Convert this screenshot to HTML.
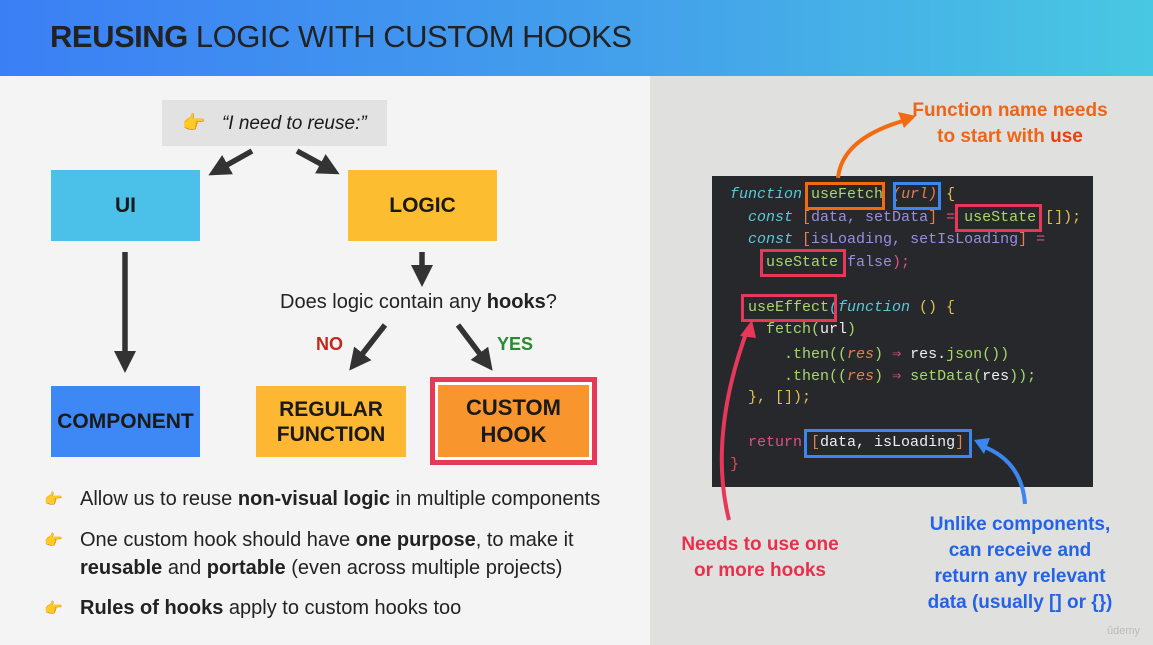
<!DOCTYPE html>
<html><head><meta charset="utf-8"><style>
*{margin:0;padding:0;box-sizing:border-box}
body{width:1153px;height:645px;overflow:hidden;background:#f4f4f4;font-family:"Liberation Sans","DejaVu Sans",sans-serif;position:relative}
.hdr{position:absolute;left:0;top:0;width:1153px;height:76px;background:linear-gradient(90deg,#3b7ff5,#44a4ea 60%,#48c8e2)}
.hdr h1{position:absolute;left:50px;top:19px;font-size:31px;font-weight:normal;color:#222;letter-spacing:-0.5px}
.rp{position:absolute;left:650px;top:76px;width:503px;height:569px;background:#e0e0de}
.a{position:absolute}
.box{position:absolute;display:flex;align-items:center;justify-content:center;text-align:center;font-weight:bold;font-size:21px;color:#1a1a1a;line-height:25px}
.code{position:absolute;left:712px;top:176px;width:381px;height:311px;background:#27282c}
.ln{position:absolute;font-family:"Liberation Mono","DejaVu Sans Mono",monospace;font-size:15px;white-space:pre;color:#ddd}
.hb{position:absolute;border:3px solid}
.bl{position:absolute;left:80px;font-size:20px;color:#222;line-height:28px}
.pt{position:absolute;left:44px;font-size:15px;color:#e8a020}
</style></head><body>
<div class="hdr"><h1><b>REUSING</b> LOGIC WITH CUSTOM HOOKS</h1></div>
<div class="rp"></div>

<div class="box" style="left:162px;top:100px;width:225px;height:46px;background:#e2e2e2;font-weight:normal;font-style:italic;font-size:19px"><span style="color:#e8a020;margin-right:16px;font-style:normal">👉</span>“I need to reuse:”</div>
<div class="box" style="left:51px;top:170px;width:149px;height:71px;background:#4bc0e8">UI</div>
<div class="box" style="left:348px;top:170px;width:149px;height:71px;background:#fdbd30">LOGIC</div>
<div class="box" style="left:51px;top:386px;width:149px;height:71px;background:#3d88f5">COMPONENT</div>
<div class="box" style="left:256px;top:386px;width:150px;height:71px;background:#fdb733">REGULAR<br>FUNCTION</div>
<div class="a" style="left:430px;top:377px;width:167px;height:88px;border:5px solid #e8385a;background:#fff"></div>
<div class="box" style="left:438px;top:385px;width:151px;height:72px;background:#f9952d;font-size:22px;line-height:27px">CUSTOM<br>HOOK</div>

<svg class="a" style="left:0;top:0" width="650" height="645">
<defs><marker id="ah" markerWidth="4" markerHeight="4" refX="2" refY="2" orient="auto" markerUnits="strokeWidth"><path d="M0,0 L4,2 L0,4 z" fill="#333"/></marker></defs>
<g stroke="#333" stroke-width="5.5" fill="none" marker-end="url(#ah)">
<line x1="252" y1="151" x2="218" y2="170"/>
<line x1="297" y1="151" x2="330" y2="169"/>
<line x1="125" y1="252" x2="125" y2="362"/>
<line x1="422" y1="252" x2="422" y2="276"/>
<line x1="385" y1="325" x2="356" y2="362"/>
<line x1="458" y1="325" x2="486" y2="362"/>
</g></svg>
<div class="a" style="left:280px;top:291px;font-size:20px;color:#222">Does logic contain any <b>hooks</b>?</div>
<div class="a" style="left:316px;top:334px;font-size:18px;font-weight:bold;color:#c0281e">NO</div>
<div class="a" style="left:497px;top:334px;font-size:18px;font-weight:bold;color:#2a8a30">YES</div>

<div class="pt" style="top:490px">👉</div>
<div class="bl" style="top:485px">Allow us to reuse <b>non-visual logic</b> in multiple components</div>
<div class="pt" style="top:531px">👉</div>
<div class="bl" style="top:526px">One custom hook should have <b>one purpose</b>, to make it<br><b>reusable</b> and <b>portable</b> (even across multiple projects)</div>
<div class="pt" style="top:599px">👉</div>
<div class="bl" style="top:594px"><b>Rules of hooks</b> apply to custom hooks too</div>

<div class="a" style="left:880px;top:98px;width:260px;text-align:center;font-size:19px;font-weight:bold;color:#f06418;line-height:26px">Function name needs<br>to start with <span style="color:#e84010">use</span></div>

<div class="code"></div>
<div class="ln" style="left:730px;top:186px"><span style="color:#5cc8d8;font-style:italic">function</span> <span style="color:#a6d86a">useFetch</span> <span style="color:#e08050;font-style:italic">(url)</span> <span style="color:#e0c050">{</span></div>
<div class="ln" style="left:748px;top:209px"><span style="color:#5cc8d8;font-style:italic">const</span> <span style="color:#e08050">[</span><span style="color:#9b8de0">data, setData</span><span style="color:#e08050">]</span> <span style="color:#e05080">=</span> <span style="color:#a6d86a">useState</span> <span style="color:#e0c050">[]);</span></div>
<div class="ln" style="left:748px;top:231px"><span style="color:#5cc8d8;font-style:italic">const</span> <span style="color:#e08050">[</span><span style="color:#9b8de0">isLoading, setIsLoading</span><span style="color:#e08050">]</span> <span style="color:#e05080">=</span></div>
<div class="ln" style="left:766px;top:254px"><span style="color:#a6d86a">useState</span> <span style="color:#9b8de0">false</span><span style="color:#e05080">);</span></div>
<div class="ln" style="left:748px;top:299px"><span style="color:#a6d86a">useEffect</span><span style="color:#5cc8d8;font-style:italic">(function</span> <span style="color:#e0c050">() {</span></div>
<div class="ln" style="left:766px;top:321px"><span style="color:#a6d86a">fetch(</span><span style="color:#eee">url</span><span style="color:#a6d86a">)</span></div>
<div class="ln" style="left:784px;top:344px"><span style="color:#a6d86a">.then((</span><span style="color:#e08050;font-style:italic">res</span><span style="color:#a6d86a">)</span> <span style="color:#e05080">⇒</span> <span style="color:#eee">res.</span><span style="color:#a6d86a">json())</span></div>
<div class="ln" style="left:784px;top:366px"><span style="color:#a6d86a">.then((</span><span style="color:#e08050;font-style:italic">res</span><span style="color:#a6d86a">)</span> <span style="color:#e05080">⇒</span> <span style="color:#a6d86a">setData(</span><span style="color:#eee">res</span><span style="color:#a6d86a">));</span></div>
<div class="ln" style="left:748px;top:389px"><span style="color:#e0c050">}, []);</span></div>
<div class="ln" style="left:748px;top:434px"><span style="color:#e05080">return</span> <span style="color:#e08050">[</span><span style="color:#eee">data, isLoading</span><span style="color:#e08050">]</span></div>
<div class="ln" style="left:730px;top:456px;color:#e05050">}</div>

<div class="hb" style="left:805px;top:182px;width:80px;height:28px;border-color:#f26b10"></div>
<div class="hb" style="left:893px;top:182px;width:48px;height:28px;border-color:#3c86f0"></div>
<div class="hb" style="left:955px;top:204px;width:87px;height:28px;border-color:#e8385a"></div>
<div class="hb" style="left:760px;top:249px;width:86px;height:28px;border-color:#e8385a"></div>
<div class="hb" style="left:741px;top:294px;width:96px;height:28px;border-color:#e8385a"></div>
<div class="hb" style="left:804px;top:429px;width:168px;height:29px;border-color:#3c86f0"></div>

<svg class="a" style="left:650px;top:76px" width="503" height="569">
<g fill="none" stroke-width="4">
<path d="M188,102 Q192,62 256,44" stroke="#f26b10"/>
<path d="M79,444 Q58,360 98,252" stroke="#e8385a"/>
<path d="M375,428 Q372,385 332,370" stroke="#3c86f0"/>
</g>
<path d="M266,40 L248,36 L254,52 z" fill="#f26b10"/>
<path d="M102,244 L90,260 L106,262 z" fill="#e8385a"/>
<path d="M324,364 L340,362 L334,378 z" fill="#3c86f0"/>
</svg>

<div class="a" style="left:660px;top:532px;width:200px;text-align:center;font-size:19px;font-weight:bold;color:#e8304c;line-height:26px">Needs to use one<br>or more hooks</div>
<div class="a" style="left:905px;top:512px;width:230px;text-align:center;font-size:19px;font-weight:bold;color:#2462e8;line-height:26px">Unlike components,<br>can receive and<br>return any relevant<br>data (usually [] or {})</div>
<div class="a" style="left:1107px;top:625px;font-size:11px;color:#bbb">ûdemy</div>
</body></html>
